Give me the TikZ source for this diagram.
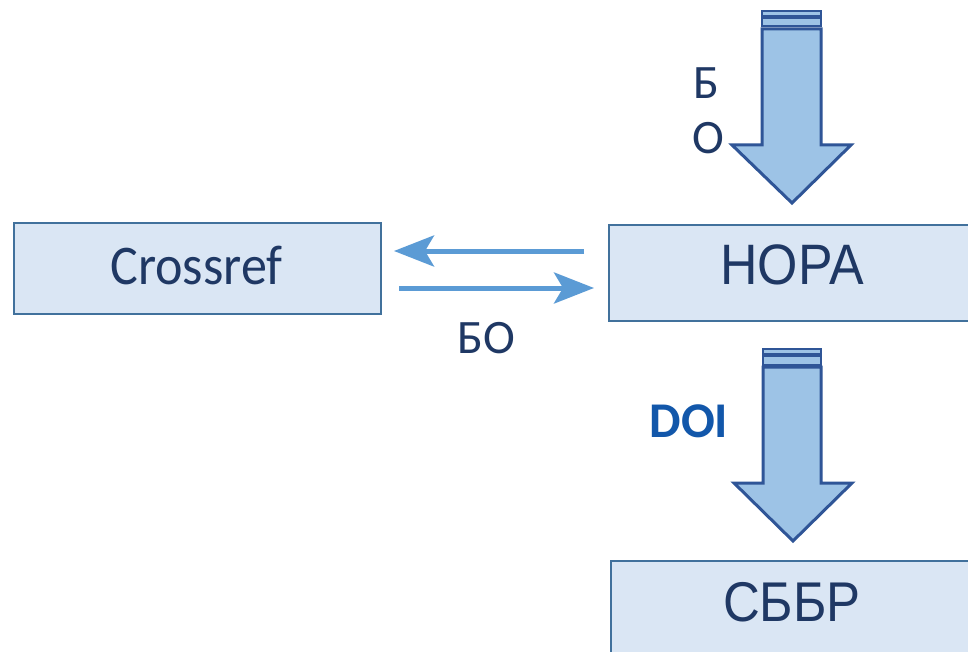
\documentclass[tikz,border=0pt]{standalone}
\usepackage{fontspec}
\setmainfont{Carlito}
\newfontfamily\arialf[FakeStretch=0.91]{Liberation Sans}
\newfontfamily\calf[FakeStretch=0.93]{Carlito}
\usetikzlibrary{arrows.meta}
\definecolor{boxfill}{HTML}{DAE6F4}
\definecolor{boxline}{HTML}{41719C}
\definecolor{txt}{HTML}{1F3864}
\definecolor{thinarr}{HTML}{5B9BD5}
\definecolor{bigfill}{HTML}{9DC3E6}
\definecolor{bigline}{HTML}{2F5597}
\definecolor{doiblue}{HTML}{1257AA}
\tikzset{
  boxnode/.style={draw=boxline, fill=boxfill, line width=2pt, inner sep=0pt, anchor=north west},
  lbl/.style={inner sep=0pt, text=txt, text depth=0pt},
  thin/.style={draw=thinarr, line width=5pt, -{Stealth[length=40pt, width=31pt, inset=9pt]}},
  bigarrow/.style={draw=bigline, fill=bigfill, line width=3pt, line join=miter},
  stripe/.style={draw=bigline, fill=bigfill, line width=2pt}
}
\begin{document}
\begin{tikzpicture}[x=1pt,y=-1pt]
\clip (0,0) rectangle (968,652);
\fill[white] (0,0) rectangle (968,652);
% boxes
\node[boxnode, minimum width=367pt, minimum height=91pt] (crossref) at (13,222) {};
\node[boxnode, minimum width=367pt, minimum height=96pt] (nora) at (608,224) {};
\node[boxnode, minimum width=367pt, minimum height=100pt] (sbbr) at (610,560) {};
% box texts
\node[lbl, font=\calf\fontsize{56}{60}\selectfont, text height=36pt] (crossreftxt) at (196.5,266) {Crossref};
\node[lbl, font=\arialf\fontsize{57}{60}\selectfont, text height=41pt] (noratxt) at (792,264) {НОРА};
\node[lbl, font=\arialf\fontsize{56}{60}\selectfont, text height=40pt] (sbbrtxt) at (792,601.5) {СББР};
% thin arrows
\coordinate (la) at (584,251);
\coordinate (lb) at (394,251);
\coordinate (ra) at (399,288);
\coordinate (rb) at (594,288);
\draw[thin] (la) -- (lb);
\draw[thin] (ra) -- (rb);
\node[lbl, font=\fontsize{48}{50}\selectfont, text height=30pt] (bo) at (486,338) {БО};
% top big arrow
\draw[stripe] (762,11) rectangle (821,16);
\draw[stripe] (762,18.5) rectangle (821,26);
\draw[bigarrow] (762,29) -- (821,29) -- (821,145) -- (851,145) -- (792,203) -- (732,145) -- (762,145) -- cycle;
\node[lbl, font=\fontsize{48}{50}\selectfont, text height=30pt] (b1) at (706,84) {Б};
\node[lbl, font=\fontsize{48}{50}\selectfont, text height=30pt] (o1) at (708,139) {О};
% bottom big arrow
\draw[stripe] (763,348.5) rectangle (821,353.5);
\draw[stripe] (763,356) rectangle (821,364.5);
\draw[bigarrow] (763,367) -- (821,367) -- (821,483) -- (852,483) -- (793,541) -- (734,483) -- (763,483) -- cycle;
\node[lbl, text=doiblue, font=\bfseries\fontsize{50}{52}\selectfont, text height=32pt] (doi) at (689,421) {DOI};
\end{tikzpicture}
\end{document}
